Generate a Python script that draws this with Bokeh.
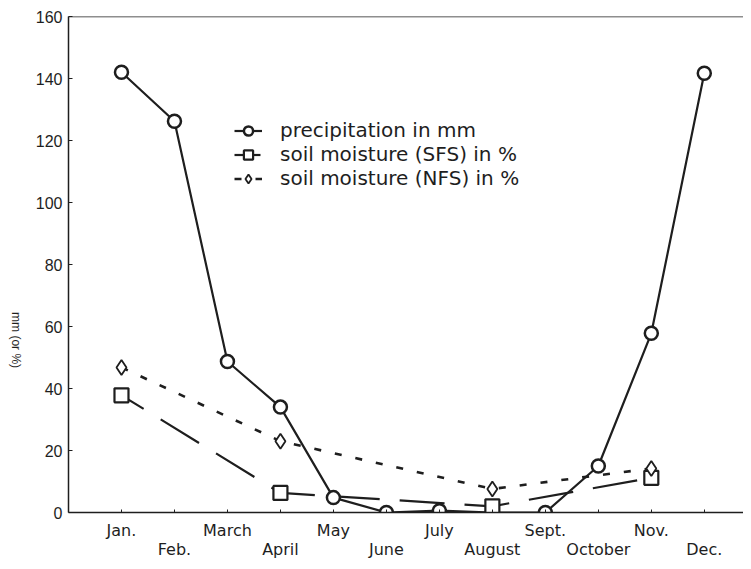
import math
from bokeh.plotting import figure
from bokeh.layouts import row
from bokeh.core.properties import value
from bokeh.models import (Range1d, FixedTicker, Legend, LegendItem, Span, ColumnDataSource)
from bokeh.embed import file_html
from bokeh.resources import INLINE

# ---- data ----
months = [1, 2, 3, 4, 5, 6, 7, 8, 9, 10, 11, 12]
month_labels = ["Jan.", "Feb.", "March", "April", "May", "June",
                "July", "August", "Sept.", "October", "Nov.", "Dec."]
precip = [142.0, 126.2, 48.7, 34.0, 4.8, 0.0, 0.6, 0.0, 0.0, 15.0, 57.8, 141.7]
sfs_months = [1, 4, 8, 11]
sfs = [37.8, 6.3, 2.0, 11.2]
nfs_months = [1, 4, 8, 11]
nfs = [46.8, 23.0, 7.6, 14.2]
y_ticks = [0, 20, 40, 60, 80, 100, 120, 140, 160]
y_title = "mm (or %)"

INK = "#1e1e1e"
H = 561

# ---- narrow strip holding the y-axis title ----
tf = figure(width=30, height=H, output_backend="svg", toolbar_location=None,
            x_range=Range1d(0, 30), y_range=Range1d(0, H),
            min_border_left=0, min_border_right=0, min_border_top=0, min_border_bottom=0)
tf.axis.visible = False
tf.xgrid.visible = False
tf.ygrid.visible = False
tf.outline_line_color = None
tf.text(x=[15], y=[H - 366], text=[y_title], angle=-math.pi / 2,
        text_align="center", text_baseline="middle",
        text_font=value("Liberation Sans"), text_font_size=value("12px"), text_color=INK)

# ---- main chart ----
p = figure(width=713, height=H, output_backend="svg", toolbar_location=None,
           x_range=Range1d(0, 12.74), y_range=Range1d(0, 160),
           min_border_left=38, min_border_right=0, min_border_top=16, min_border_bottom=40)
p.outline_line_color = None
p.xgrid.visible = False
p.ygrid.visible = False
p.background_fill_color = "white"
p.border_fill_color = "white"

# top frame line
p.add_layout(Span(location=p.y_range.end, dimension="width", line_color=INK, line_width=1.5))

# x axis
xa = p.xaxis[0]
xa.ticker = FixedTicker(ticks=months)
xa.major_label_overrides = {m: (lab if i % 2 == 0 else "\n" + lab)
                            for i, (m, lab) in enumerate(zip(months, month_labels))}
xa.major_label_text_font = "DejaVu Sans"
xa.major_label_text_font_size = "16px"
xa.major_label_text_line_height = 1.0
xa.major_label_text_color = INK
xa.major_label_standoff = 8
xa.major_tick_in = 3
xa.major_tick_out = 0
xa.minor_tick_line_color = None
xa.axis_line_color = INK
xa.axis_line_width = 1.5
xa.major_tick_line_color = INK

# y axis
ya = p.yaxis[0]
ya.ticker = FixedTicker(ticks=y_ticks)
ya.major_label_text_font = "Liberation Sans"
ya.major_label_text_font_size = "16px"
ya.major_label_text_color = INK
ya.major_label_standoff = 6
ya.major_tick_in = 4
ya.major_tick_out = 0
ya.minor_tick_line_color = None
ya.axis_line_color = INK
ya.axis_line_width = 1.5
ya.major_tick_line_color = INK

# series
src_p = ColumnDataSource(dict(x=months, y=precip))
src_s = ColumnDataSource(dict(x=sfs_months, y=sfs))
src_n = ColumnDataSource(dict(x=nfs_months, y=nfs))

ls = p.line("x", "y", source=src_s, line_color=INK, line_width=2.2, line_dash="45 20", line_dash_offset=19)
ln = p.line("x", "y", source=src_n, line_color=INK, line_width=2.6, line_dash="7 14")
lp = p.line("x", "y", source=src_p, line_color=INK, line_width=2.2)

rp = p.scatter("x", "y", source=src_p, marker="circle", size=13, line_width=2.5,
               line_color=INK, fill_color="white")
rs = p.scatter("x", "y", source=src_s, marker="square", size=14, line_width=2.2,
               line_color=INK, fill_color="white")
rn = p.scatter("x", "y", source=src_n, marker="diamond", size=15,
               line_width=1.8, line_color=INK, fill_color="white")

legend = Legend(items=[
    LegendItem(label="precipitation in mm", renderers=[lp, rp]),
    LegendItem(label="soil moisture (SFS) in %", renderers=[ls, rs]),
    LegendItem(label="soil moisture (NFS) in %", renderers=[ln, rn]),
], location=(166, 322), orientation="vertical")
legend.label_text_font = "DejaVu Sans"
legend.label_text_font_size = "20px"
legend.label_text_color = INK
legend.glyph_width = 28
legend.glyph_height = 23
legend.label_height = 19
legend.label_standoff = 18
legend.spacing = 0
legend.padding = 0
legend.margin = 0
legend.border_line_color = None
legend.background_fill_alpha = 0
p.add_layout(legend)

layout = row(tf, p)
open("out.html", "w").write(file_html(layout, INLINE))
